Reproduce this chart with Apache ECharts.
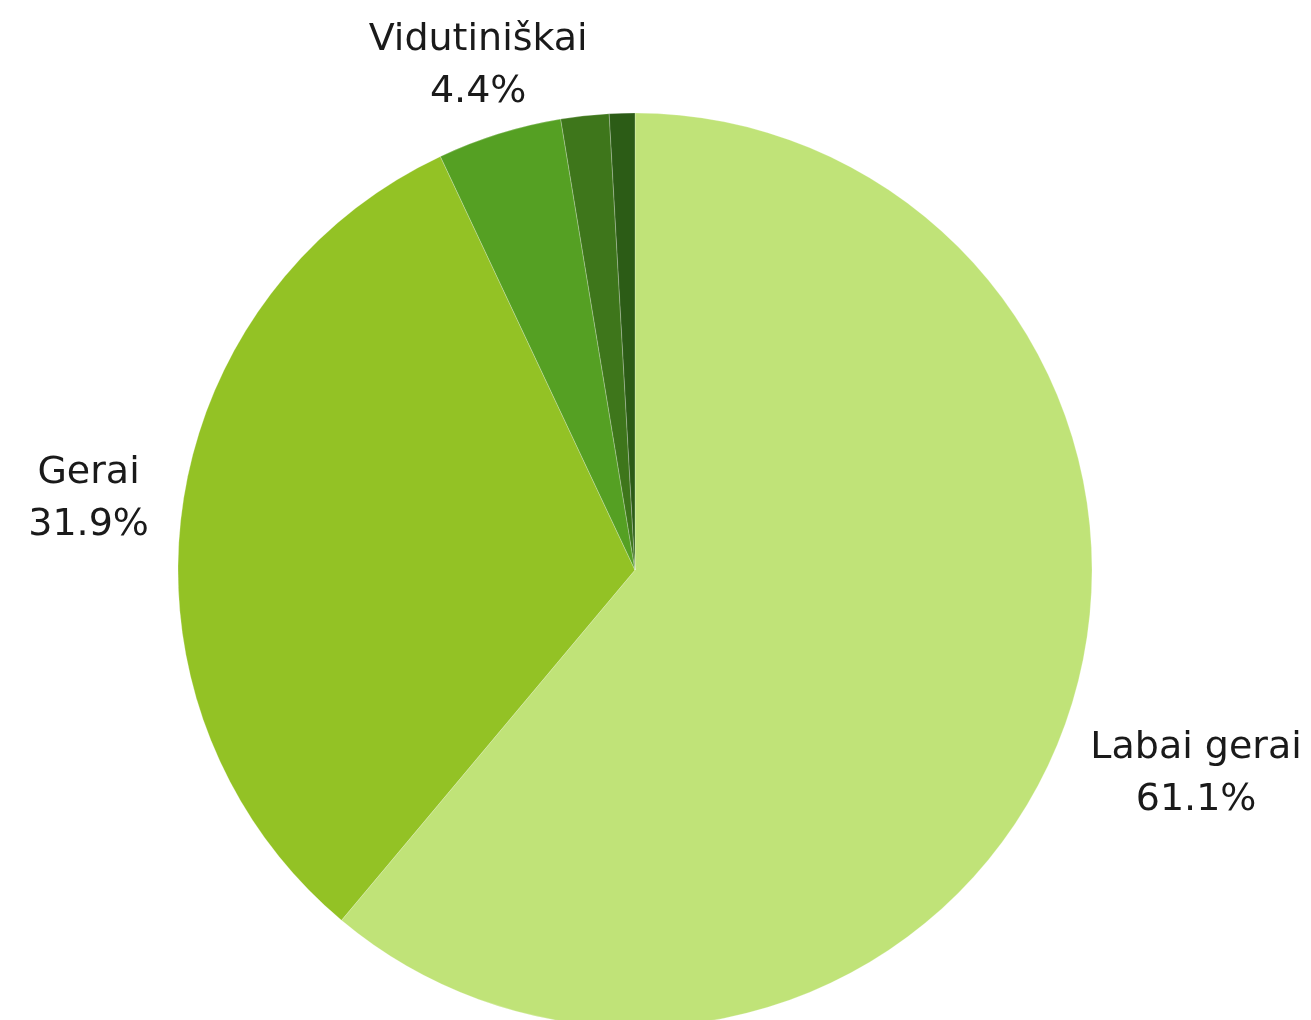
<!DOCTYPE html>
<html>
<head>
<meta charset="utf-8">
<script src="https://cdn.jsdelivr.net/npm/echarts@6/dist/echarts.min.js"></script>
<style>
    html, body { margin: 0; padding: 0; background: #fff; }
    #chart { width: 1311px; height: 1020px; }
</style>
</head>
<body>
<div id="chart"></div>
<script>
// 类别
let categories = ['Labai gerai', 'Gerai', 'Vidutiniškai', 'Blogai', 'Labai blogai'];
// 百分比
let shares = [61.1, 31.9, 4.4, 1.7, 0.9];
// 颜色
let colors = ['#c0e378', '#93c225', '#55a023', '#3e761b', '#2c5c16'];
// 标签是否显示
let showLabel = [true, true, true, false, false];
// 标签离饼图的距离
let labelGap = [140, 94, 71, 20, 20];

let pieData = [];
for (let i = 0; i < categories.length; i++) {
    pieData.push({
        name: categories[i],
        value: shares[i],
        itemStyle: { color: colors[i] },
        label: { show: showLabel[i] },
        labelLine: { show: false, length: labelGap[i], length2: 0 }
    });
}

let option = {
    backgroundColor: '#ffffff',
    animation: false,
    series: [
        {
            type: 'pie',
            center: [635, 570],
            radius: 457,
            startAngle: 90,
            clockwise: true,
            avoidLabelOverlap: false,
            itemStyle: {
                borderColor: 'rgba(255,255,255,0.6)',
                borderWidth: 0.4
            },
            label: {
                position: 'outside',
                distanceToLabelLine: 0,
                fontFamily: 'DejaVu Sans',
                fontSize: 38,
                lineHeight: 52,
                color: '#1a1a1a',
                formatter: function (p) {
                    return p.name + '\n' + p.value.toFixed(1) + '%';
                }
            },
            labelLayout: {
                align: 'center',
                verticalAlign: 'middle'
            },
            emphasis: { disabled: true },
            data: pieData
        }
    ]
};

let myChart = echarts.init(document.getElementById('chart'));
myChart.setOption(option);
</script>
</body>
</html>
